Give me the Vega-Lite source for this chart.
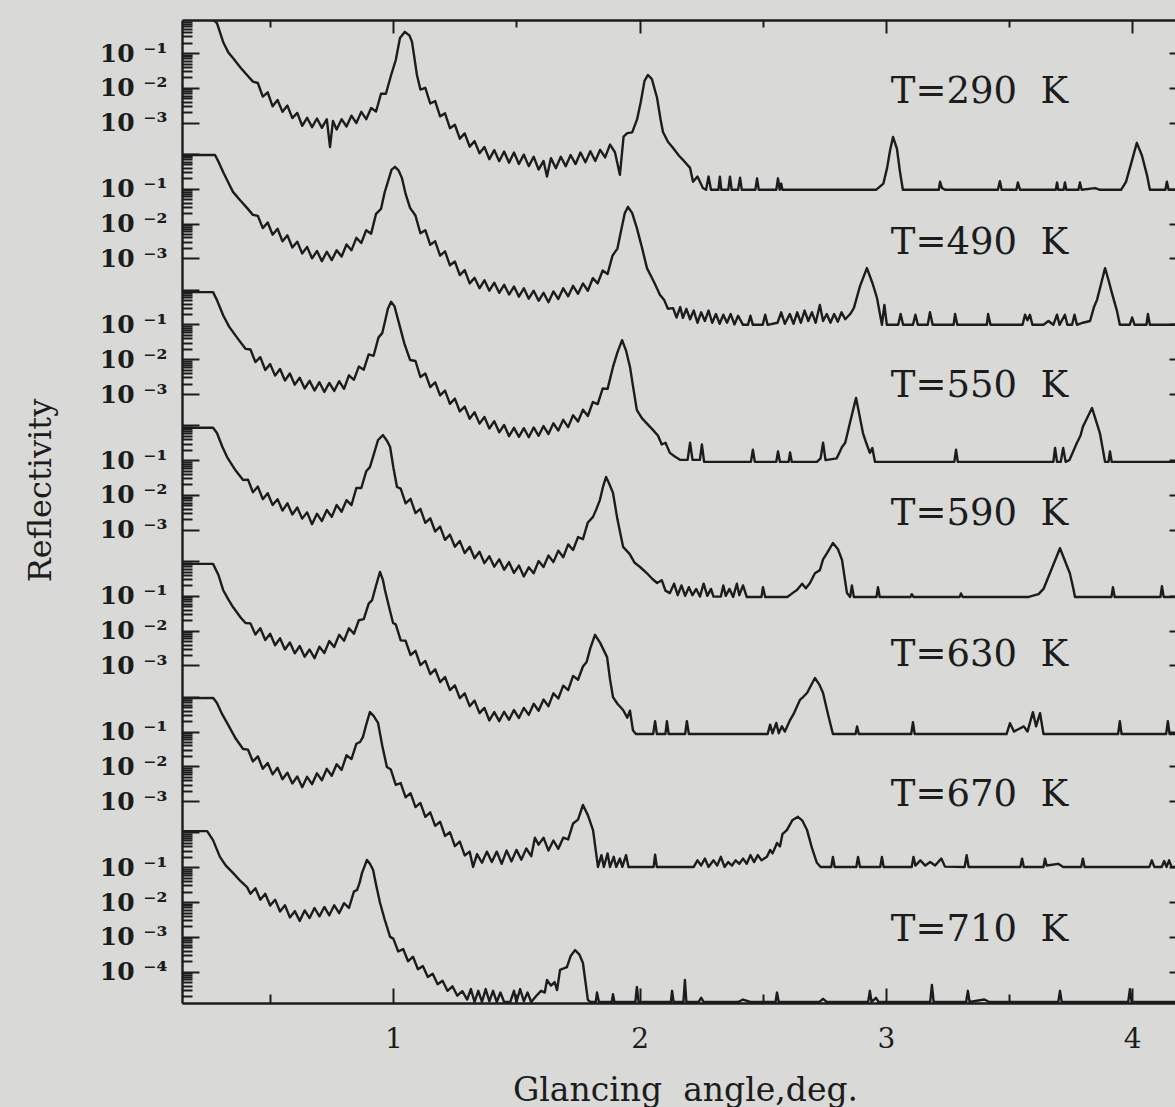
{
"$schema":"https://vega.github.io/schema/vega-lite/v6.json",
"width":993,"height":983,
"autosize":{"type":"none"},
"padding":{"left":182,"top":20,"right":0,"bottom":104},
"background":"#d9d9d7",
"config":{"view":{"stroke":null},"font":"DejaVu Serif"},
"datasets":{
"labels":[
{"T":290,"txt":"T=290\u00a0 K","a":3.02,"r":-2.13},
{"T":490,"txt":"T=490\u00a0 K","a":3.02,"r":-2.57},
{"T":550,"txt":"T=550\u00a0 K","a":3.02,"r":-2.78},
{"T":590,"txt":"T=590\u00a0 K","a":3.02,"r":-2.55},
{"T":630,"txt":"T=630\u00a0 K","a":3.02,"r":-2.71},
{"T":670,"txt":"T=670\u00a0 K","a":3.02,"r":-2.81},
{"T":710,"txt":"T=710\u00a0 K","a":3.02,"r":-2.8}
],
"curves":[
{"T":290,"a":0.142,"r":0},{"T":290,"a":0.26,"r":0},{"T":290,"a":0.284,"r":-0.14},{"T":290,"a":0.309,"r":-0.68},{"T":290,"a":0.33,"r":-0.98},{"T":290,"a":0.349,"r":-1.14},{"T":290,"a":0.38,"r":-1.42},{"T":290,"a":0.406,"r":-1.63},{"T":290,"a":0.43,"r":-1.82},
{"T":290,"a":0.45,"r":-1.86},{"T":290,"a":0.47,"r":-2.25},{"T":290,"a":0.49,"r":-2.13},{"T":290,"a":0.51,"r":-2.53},{"T":290,"a":0.53,"r":-2.35},{"T":290,"a":0.55,"r":-2.69},{"T":290,"a":0.57,"r":-2.51},{"T":290,"a":0.59,"r":-2.87},{"T":290,"a":0.61,"r":-2.72},{"T":290,"a":0.63,"r":-3.09},{"T":290,"a":0.65,"r":-2.86},{"T":290,"a":0.67,"r":-3.13},{"T":290,"a":0.69,"r":-2.88},{"T":290,"a":0.71,"r":-3.15},{"T":290,"a":0.73,"r":-2.9},{"T":290,"a":0.743,"r":-3.7},{"T":290,"a":0.755,"r":-2.95},{"T":290,"a":0.77,"r":-3.2},{"T":290,"a":0.79,"r":-2.9},{"T":290,"a":0.81,"r":-3.11},{"T":290,"a":0.83,"r":-2.8},{"T":290,"a":0.85,"r":-3.01},{"T":290,"a":0.87,"r":-2.69},{"T":290,"a":0.89,"r":-2.9},{"T":290,"a":0.91,"r":-2.58},{"T":290,"a":0.93,"r":-2.68},{"T":290,"a":0.95,"r":-2.17},{"T":290,"a":0.97,"r":-2.17},{"T":290,"a":0.99,"r":-1.66},
{"T":290,"a":1.01,"r":-1.2},{"T":290,"a":1.027,"r":-0.57},{"T":290,"a":1.047,"r":-0.39},{"T":290,"a":1.066,"r":-0.5},{"T":290,"a":1.076,"r":-0.68},{"T":290,"a":1.096,"r":-1.63},
{"T":290,"a":1.11,"r":-2.05},{"T":290,"a":1.13,"r":-2.0},{"T":290,"a":1.15,"r":-2.45},{"T":290,"a":1.17,"r":-2.38},{"T":290,"a":1.19,"r":-2.82},{"T":290,"a":1.21,"r":-2.73},{"T":290,"a":1.23,"r":-3.16},{"T":290,"a":1.25,"r":-3.06},{"T":290,"a":1.27,"r":-3.46},{"T":290,"a":1.29,"r":-3.31},{"T":290,"a":1.31,"r":-3.69},{"T":290,"a":1.33,"r":-3.53},{"T":290,"a":1.35,"r":-3.88},{"T":290,"a":1.37,"r":-3.7},{"T":290,"a":1.39,"r":-4.05},{"T":290,"a":1.41,"r":-3.79},{"T":290,"a":1.43,"r":-4.11},{"T":290,"a":1.45,"r":-3.83},{"T":290,"a":1.47,"r":-4.15},{"T":290,"a":1.49,"r":-3.86},{"T":290,"a":1.51,"r":-4.19},{"T":290,"a":1.53,"r":-3.92},{"T":290,"a":1.55,"r":-4.25},{"T":290,"a":1.57,"r":-3.98},{"T":290,"a":1.59,"r":-4.35},{"T":290,"a":1.61,"r":-4.1},{"T":290,"a":1.624,"r":-4.55},{"T":290,"a":1.64,"r":-4.02},{"T":290,"a":1.66,"r":-4.31},{"T":290,"a":1.68,"r":-3.98},{"T":290,"a":1.7,"r":-4.25},{"T":290,"a":1.72,"r":-3.93},{"T":290,"a":1.74,"r":-4.19},{"T":290,"a":1.76,"r":-3.86},{"T":290,"a":1.78,"r":-4.14},{"T":290,"a":1.8,"r":-3.82},{"T":290,"a":1.82,"r":-4.1},{"T":290,"a":1.84,"r":-3.78},{"T":290,"a":1.86,"r":-4.0},{"T":290,"a":1.88,"r":-3.63},{"T":290,"a":1.9,"r":-3.85},{"T":290,"a":1.92,"r":-4.5},{"T":290,"a":1.935,"r":-3.4},{"T":290,"a":1.95,"r":-3.3},{"T":290,"a":1.97,"r":-3.28},{"T":290,"a":1.99,"r":-2.9},{"T":290,"a":2.005,"r":-2.4},{"T":290,"a":2.02,"r":-1.8},{"T":290,"a":2.034,"r":-1.63},{"T":290,"a":2.05,"r":-1.75},{"T":290,"a":2.071,"r":-2.29},{"T":290,"a":2.085,"r":-2.9},{"T":290,"a":2.095,"r":-3.27},{"T":290,"a":2.115,"r":-3.55},{"T":290,"a":2.136,"r":-3.73},{"T":290,"a":2.16,"r":-3.95},{"T":290,"a":2.18,"r":-4.1},{"T":290,"a":2.205,"r":-4.3},{"T":290,"a":2.217,"r":-4.7},{"T":290,"a":2.235,"r":-4.55},{"T":290,"a":2.257,"r":-4.88},
{"T":290,"a":2.27,"r":-4.93},{"T":290,"a":2.28,"r":-4.55},{"T":290,"a":2.29,"r":-4.93},{"T":290,"a":2.32,"r":-4.93},{"T":290,"a":2.326,"r":-4.55},{"T":290,"a":2.332,"r":-4.93},{"T":290,"a":2.36,"r":-4.93},{"T":290,"a":2.367,"r":-4.55},{"T":290,"a":2.374,"r":-4.93},{"T":290,"a":2.4,"r":-4.93},{"T":290,"a":2.408,"r":-4.58},{"T":290,"a":2.415,"r":-4.93},{"T":290,"a":2.47,"r":-4.93},{"T":290,"a":2.477,"r":-4.6},{"T":290,"a":2.484,"r":-4.93},{"T":290,"a":2.555,"r":-4.93},{"T":290,"a":2.562,"r":-4.6},{"T":290,"a":2.569,"r":-4.93},{"T":290,"a":2.575,"r":-4.75},{"T":290,"a":2.58,"r":-4.93},
{"T":290,"a":2.96,"r":-4.93},{"T":290,"a":2.99,"r":-4.75},{"T":290,"a":3.005,"r":-4.3},{"T":290,"a":3.017,"r":-3.8},{"T":290,"a":3.029,"r":-3.41},{"T":290,"a":3.045,"r":-3.75},{"T":290,"a":3.057,"r":-4.4},{"T":290,"a":3.069,"r":-4.93},
{"T":290,"a":3.215,"r":-4.93},{"T":290,"a":3.22,"r":-4.7},{"T":290,"a":3.228,"r":-4.88},{"T":290,"a":3.24,"r":-4.93},{"T":290,"a":3.455,"r":-4.93},{"T":290,"a":3.463,"r":-4.68},{"T":290,"a":3.47,"r":-4.93},{"T":290,"a":3.53,"r":-4.93},{"T":290,"a":3.536,"r":-4.72},{"T":290,"a":3.545,"r":-4.93},{"T":290,"a":3.69,"r":-4.93},{"T":290,"a":3.695,"r":-4.72},{"T":290,"a":3.7,"r":-4.93},{"T":290,"a":3.722,"r":-4.93},{"T":290,"a":3.727,"r":-4.72},{"T":290,"a":3.733,"r":-4.93},{"T":290,"a":3.782,"r":-4.93},{"T":290,"a":3.788,"r":-4.72},{"T":290,"a":3.795,"r":-4.93},{"T":290,"a":3.85,"r":-4.88},{"T":290,"a":3.87,"r":-4.93},
{"T":290,"a":3.955,"r":-4.93},{"T":290,"a":3.975,"r":-4.7},{"T":290,"a":3.995,"r":-4.2},{"T":290,"a":4.019,"r":-3.58},{"T":290,"a":4.04,"r":-3.95},{"T":290,"a":4.06,"r":-4.5},{"T":290,"a":4.072,"r":-4.93},{"T":290,"a":4.135,"r":-4.93},{"T":290,"a":4.141,"r":-4.7},{"T":290,"a":4.148,"r":-4.93},{"T":290,"a":4.18,"r":-4.93},

{"T":490,"a":0.142,"r":-0.03},{"T":490,"a":0.276,"r":-0.03},{"T":490,"a":0.292,"r":-0.25},{"T":490,"a":0.309,"r":-0.52},{"T":490,"a":0.33,"r":-0.82},{"T":490,"a":0.349,"r":-1.09},{"T":490,"a":0.378,"r":-1.33},{"T":490,"a":0.406,"r":-1.55},{"T":490,"a":0.43,"r":-1.75},
{"T":490,"a":0.45,"r":-1.78},{"T":490,"a":0.47,"r":-2.13},{"T":490,"a":0.49,"r":-1.97},{"T":490,"a":0.51,"r":-2.32},{"T":490,"a":0.53,"r":-2.15},{"T":490,"a":0.55,"r":-2.51},{"T":490,"a":0.57,"r":-2.34},{"T":490,"a":0.59,"r":-2.69},{"T":490,"a":0.61,"r":-2.52},{"T":490,"a":0.63,"r":-2.86},{"T":490,"a":0.65,"r":-2.67},{"T":490,"a":0.67,"r":-3.0},{"T":490,"a":0.69,"r":-2.79},{"T":490,"a":0.71,"r":-3.08},{"T":490,"a":0.73,"r":-2.81},{"T":490,"a":0.75,"r":-3.05},{"T":490,"a":0.77,"r":-2.77},{"T":490,"a":0.79,"r":-2.95},{"T":490,"a":0.81,"r":-2.6},{"T":490,"a":0.83,"r":-2.77},{"T":490,"a":0.85,"r":-2.41},{"T":490,"a":0.87,"r":-2.56},{"T":490,"a":0.89,"r":-2.19},{"T":490,"a":0.91,"r":-2.29},{"T":490,"a":0.93,"r":-1.72},{"T":490,"a":0.95,"r":-1.58},{"T":490,"a":0.965,"r":-1.1},{"T":490,"a":0.978,"r":-0.8},{"T":490,"a":0.993,"r":-0.45},{"T":490,"a":1.007,"r":-0.37},{"T":490,"a":1.022,"r":-0.48},{"T":490,"a":1.035,"r":-0.69},{"T":490,"a":1.05,"r":-1.15},{"T":490,"a":1.068,"r":-1.55},
{"T":490,"a":1.09,"r":-1.77},{"T":490,"a":1.11,"r":-2.28},{"T":490,"a":1.13,"r":-2.19},{"T":490,"a":1.15,"r":-2.61},{"T":490,"a":1.17,"r":-2.51},{"T":490,"a":1.19,"r":-2.92},{"T":490,"a":1.21,"r":-2.8},{"T":490,"a":1.23,"r":-3.2},{"T":490,"a":1.25,"r":-3.09},{"T":490,"a":1.27,"r":-3.48},{"T":490,"a":1.29,"r":-3.34},{"T":490,"a":1.31,"r":-3.72},{"T":490,"a":1.33,"r":-3.56},{"T":490,"a":1.35,"r":-3.86},{"T":490,"a":1.37,"r":-3.63},{"T":490,"a":1.39,"r":-3.93},{"T":490,"a":1.41,"r":-3.7},{"T":490,"a":1.43,"r":-3.99},{"T":490,"a":1.45,"r":-3.76},{"T":490,"a":1.47,"r":-4.04},{"T":490,"a":1.49,"r":-3.81},{"T":490,"a":1.51,"r":-4.1},{"T":490,"a":1.53,"r":-3.86},{"T":490,"a":1.55,"r":-4.16},{"T":490,"a":1.57,"r":-3.93},{"T":490,"a":1.59,"r":-4.22},{"T":490,"a":1.61,"r":-3.99},{"T":490,"a":1.63,"r":-4.26},{"T":490,"a":1.65,"r":-3.95},{"T":490,"a":1.67,"r":-4.17},{"T":490,"a":1.69,"r":-3.86},{"T":490,"a":1.71,"r":-4.09},{"T":490,"a":1.73,"r":-3.79},{"T":490,"a":1.75,"r":-4.02},{"T":490,"a":1.77,"r":-3.72},{"T":490,"a":1.79,"r":-3.93},{"T":490,"a":1.81,"r":-3.57},{"T":490,"a":1.83,"r":-3.72},{"T":490,"a":1.85,"r":-3.35},{"T":490,"a":1.87,"r":-3.45},{"T":490,"a":1.89,"r":-2.92},{"T":490,"a":1.91,"r":-2.72},{"T":490,"a":1.925,"r":-2.2},{"T":490,"a":1.94,"r":-1.7},{"T":490,"a":1.953,"r":-1.52},{"T":490,"a":1.97,"r":-1.7},{"T":490,"a":1.989,"r":-2.13},{"T":490,"a":2.01,"r":-2.7},{"T":490,"a":2.03,"r":-3.28},{"T":490,"a":2.06,"r":-3.7},{"T":490,"a":2.083,"r":-4.05},
{"T":490,"a":2.1,"r":-4.2},{"T":490,"a":2.115,"r":-4.45},{"T":490,"a":2.136,"r":-4.43},{"T":490,"a":2.15,"r":-4.7},{"T":490,"a":2.165,"r":-4.4},{"T":490,"a":2.176,"r":-4.71},{"T":490,"a":2.19,"r":-4.45},{"T":490,"a":2.205,"r":-4.75},{"T":490,"a":2.22,"r":-4.5},{"T":490,"a":2.235,"r":-4.85},{"T":490,"a":2.25,"r":-4.55},{"T":490,"a":2.265,"r":-4.8},{"T":490,"a":2.28,"r":-4.5},{"T":490,"a":2.295,"r":-4.85},{"T":490,"a":2.31,"r":-4.6},{"T":490,"a":2.325,"r":-4.88},{"T":490,"a":2.34,"r":-4.62},{"T":490,"a":2.355,"r":-4.85},{"T":490,"a":2.37,"r":-4.6},{"T":490,"a":2.385,"r":-4.9},{"T":490,"a":2.4,"r":-4.65},{"T":490,"a":2.42,"r":-4.91},{"T":490,"a":2.44,"r":-4.91},{"T":490,"a":2.45,"r":-4.65},{"T":490,"a":2.46,"r":-4.91},{"T":490,"a":2.5,"r":-4.91},{"T":490,"a":2.51,"r":-4.62},{"T":490,"a":2.52,"r":-4.91},{"T":490,"a":2.56,"r":-4.85},{"T":490,"a":2.575,"r":-4.55},{"T":490,"a":2.59,"r":-4.88},{"T":490,"a":2.61,"r":-4.6},{"T":490,"a":2.625,"r":-4.88},{"T":490,"a":2.64,"r":-4.55},{"T":490,"a":2.655,"r":-4.85},{"T":490,"a":2.67,"r":-4.5},{"T":490,"a":2.685,"r":-4.8},{"T":490,"a":2.7,"r":-4.55},{"T":490,"a":2.715,"r":-4.85},{"T":490,"a":2.732,"r":-4.34},{"T":490,"a":2.745,"r":-4.8},{"T":490,"a":2.76,"r":-4.6},{"T":490,"a":2.775,"r":-4.85},{"T":490,"a":2.79,"r":-4.6},{"T":490,"a":2.805,"r":-4.82},{"T":490,"a":2.82,"r":-4.55},{"T":490,"a":2.835,"r":-4.75},{"T":490,"a":2.855,"r":-4.6},{"T":490,"a":2.87,"r":-4.43},{"T":490,"a":2.895,"r":-3.8},{"T":490,"a":2.923,"r":-3.28},{"T":490,"a":2.945,"r":-3.7},{"T":490,"a":2.964,"r":-4.14},{"T":490,"a":2.984,"r":-4.91},{"T":490,"a":2.994,"r":-4.34},{"T":490,"a":3.004,"r":-4.91},
{"T":490,"a":3.05,"r":-4.91},{"T":490,"a":3.06,"r":-4.6},{"T":490,"a":3.07,"r":-4.91},{"T":490,"a":3.11,"r":-4.91},{"T":490,"a":3.12,"r":-4.62},{"T":490,"a":3.13,"r":-4.91},{"T":490,"a":3.17,"r":-4.91},{"T":490,"a":3.179,"r":-4.55},{"T":490,"a":3.19,"r":-4.91},{"T":490,"a":3.275,"r":-4.91},{"T":490,"a":3.281,"r":-4.6},{"T":490,"a":3.29,"r":-4.91},{"T":490,"a":3.41,"r":-4.91},{"T":490,"a":3.415,"r":-4.6},{"T":490,"a":3.425,"r":-4.91},{"T":490,"a":3.555,"r":-4.91},{"T":490,"a":3.565,"r":-4.62},{"T":490,"a":3.575,"r":-4.78},{"T":490,"a":3.585,"r":-4.62},{"T":490,"a":3.595,"r":-4.91},{"T":490,"a":3.64,"r":-4.91},{"T":490,"a":3.66,"r":-4.8},{"T":490,"a":3.68,"r":-4.91},{"T":490,"a":3.695,"r":-4.62},{"T":490,"a":3.705,"r":-4.91},{"T":490,"a":3.727,"r":-4.62},{"T":490,"a":3.737,"r":-4.91},{"T":490,"a":3.756,"r":-4.91},{"T":490,"a":3.766,"r":-4.62},{"T":490,"a":3.776,"r":-4.91},{"T":490,"a":3.8,"r":-4.85},{"T":490,"a":3.829,"r":-4.8},{"T":490,"a":3.845,"r":-4.4},{"T":490,"a":3.857,"r":-4.2},{"T":490,"a":3.875,"r":-3.7},{"T":490,"a":3.89,"r":-3.28},{"T":490,"a":3.905,"r":-3.65},{"T":490,"a":3.918,"r":-4.0},{"T":490,"a":3.938,"r":-4.5},{"T":490,"a":3.95,"r":-4.91},{"T":490,"a":3.99,"r":-4.91},{"T":490,"a":4.0,"r":-4.7},{"T":490,"a":4.01,"r":-4.91},{"T":490,"a":4.058,"r":-4.91},{"T":490,"a":4.064,"r":-4.6},{"T":490,"a":4.072,"r":-4.91},{"T":490,"a":4.18,"r":-4.91},

{"T":550,"a":0.142,"r":-0.07},{"T":550,"a":0.268,"r":-0.07},{"T":550,"a":0.284,"r":-0.3},{"T":550,"a":0.31,"r":-0.75},{"T":550,"a":0.334,"r":-1.07},{"T":550,"a":0.37,"r":-1.42},{"T":550,"a":0.4,"r":-1.7},
{"T":550,"a":0.42,"r":-1.72},{"T":550,"a":0.44,"r":-2.08},{"T":550,"a":0.46,"r":-1.94},{"T":550,"a":0.48,"r":-2.31},{"T":550,"a":0.5,"r":-2.14},{"T":550,"a":0.52,"r":-2.47},{"T":550,"a":0.54,"r":-2.28},{"T":550,"a":0.56,"r":-2.61},{"T":550,"a":0.58,"r":-2.41},{"T":550,"a":0.6,"r":-2.73},{"T":550,"a":0.62,"r":-2.53},{"T":550,"a":0.64,"r":-2.84},{"T":550,"a":0.66,"r":-2.62},{"T":550,"a":0.68,"r":-2.9},{"T":550,"a":0.7,"r":-2.66},{"T":550,"a":0.72,"r":-2.94},{"T":550,"a":0.74,"r":-2.68},{"T":550,"a":0.76,"r":-2.91},{"T":550,"a":0.78,"r":-2.63},{"T":550,"a":0.8,"r":-2.85},{"T":550,"a":0.82,"r":-2.46},{"T":550,"a":0.84,"r":-2.59},{"T":550,"a":0.86,"r":-2.21},{"T":550,"a":0.88,"r":-2.3},{"T":550,"a":0.9,"r":-1.86},{"T":550,"a":0.92,"r":-1.9},{"T":550,"a":0.94,"r":-1.37},{"T":550,"a":0.955,"r":-1.25},{"T":550,"a":0.965,"r":-0.95},{"T":550,"a":0.978,"r":-0.55},{"T":550,"a":0.991,"r":-0.35},{"T":550,"a":1.005,"r":-0.48},{"T":550,"a":1.015,"r":-0.75},{"T":550,"a":1.027,"r":-1.07},{"T":550,"a":1.045,"r":-1.55},{"T":550,"a":1.068,"r":-2.02},
{"T":550,"a":1.09,"r":-2.05},{"T":550,"a":1.11,"r":-2.51},{"T":550,"a":1.13,"r":-2.41},{"T":550,"a":1.15,"r":-2.8},{"T":550,"a":1.17,"r":-2.66},{"T":550,"a":1.19,"r":-3.04},{"T":550,"a":1.21,"r":-2.9},{"T":550,"a":1.23,"r":-3.28},{"T":550,"a":1.25,"r":-3.13},{"T":550,"a":1.27,"r":-3.5},{"T":550,"a":1.29,"r":-3.36},{"T":550,"a":1.31,"r":-3.71},{"T":550,"a":1.33,"r":-3.52},{"T":550,"a":1.35,"r":-3.85},{"T":550,"a":1.37,"r":-3.66},{"T":550,"a":1.39,"r":-3.99},{"T":550,"a":1.41,"r":-3.78},{"T":550,"a":1.43,"r":-4.1},{"T":550,"a":1.45,"r":-3.89},{"T":550,"a":1.47,"r":-4.21},{"T":550,"a":1.49,"r":-3.97},{"T":550,"a":1.51,"r":-4.23},{"T":550,"a":1.53,"r":-3.98},{"T":550,"a":1.55,"r":-4.24},{"T":550,"a":1.57,"r":-3.96},{"T":550,"a":1.59,"r":-4.2},{"T":550,"a":1.61,"r":-3.92},{"T":550,"a":1.63,"r":-4.15},{"T":550,"a":1.65,"r":-3.84},{"T":550,"a":1.67,"r":-4.05},{"T":550,"a":1.69,"r":-3.74},{"T":550,"a":1.71,"r":-3.95},{"T":550,"a":1.73,"r":-3.61},{"T":550,"a":1.75,"r":-3.79},{"T":550,"a":1.77,"r":-3.45},{"T":550,"a":1.79,"r":-3.63},{"T":550,"a":1.81,"r":-3.23},{"T":550,"a":1.83,"r":-3.29},{"T":550,"a":1.85,"r":-2.84},{"T":550,"a":1.87,"r":-2.85},{"T":550,"a":1.892,"r":-2.22},{"T":550,"a":1.91,"r":-1.8},{"T":550,"a":1.929,"r":-1.45},{"T":550,"a":1.945,"r":-1.75},{"T":550,"a":1.961,"r":-2.22},{"T":550,"a":1.975,"r":-2.85},{"T":550,"a":1.989,"r":-3.46},{"T":550,"a":2.01,"r":-3.7},{"T":550,"a":2.03,"r":-3.85},{"T":550,"a":2.054,"r":-4.03},{"T":550,"a":2.075,"r":-4.2},{"T":550,"a":2.09,"r":-4.45},{"T":550,"a":2.105,"r":-4.4},{"T":550,"a":2.123,"r":-4.69},{"T":550,"a":2.14,"r":-4.78},{"T":550,"a":2.164,"r":-4.89},
{"T":550,"a":2.195,"r":-4.89},{"T":550,"a":2.205,"r":-4.4},{"T":550,"a":2.215,"r":-4.89},{"T":550,"a":2.245,"r":-4.89},{"T":550,"a":2.253,"r":-4.45},{"T":550,"a":2.262,"r":-4.95},{"T":550,"a":2.452,"r":-4.95},{"T":550,"a":2.46,"r":-4.6},{"T":550,"a":2.468,"r":-4.95},{"T":550,"a":2.555,"r":-4.95},{"T":550,"a":2.562,"r":-4.65},{"T":550,"a":2.57,"r":-4.95},{"T":550,"a":2.605,"r":-4.95},{"T":550,"a":2.611,"r":-4.68},{"T":550,"a":2.618,"r":-4.95},{"T":550,"a":2.72,"r":-4.95},{"T":550,"a":2.735,"r":-4.85},{"T":550,"a":2.745,"r":-4.4},{"T":550,"a":2.755,"r":-4.9},{"T":550,"a":2.8,"r":-4.85},{"T":550,"a":2.822,"r":-4.52},{"T":550,"a":2.835,"r":-4.4},{"T":550,"a":2.854,"r":-3.83},{"T":550,"a":2.879,"r":-3.11},{"T":550,"a":2.907,"r":-4.12},{"T":550,"a":2.92,"r":-4.4},{"T":550,"a":2.935,"r":-4.69},{"T":550,"a":2.945,"r":-4.55},{"T":550,"a":2.956,"r":-4.95},
{"T":550,"a":3.278,"r":-4.95},{"T":550,"a":3.285,"r":-4.6},{"T":550,"a":3.292,"r":-4.95},{"T":550,"a":3.68,"r":-4.95},{"T":550,"a":3.687,"r":-4.55},{"T":550,"a":3.695,"r":-4.95},{"T":550,"a":3.71,"r":-4.95},{"T":550,"a":3.72,"r":-4.55},{"T":550,"a":3.73,"r":-4.95},{"T":550,"a":3.745,"r":-4.9},{"T":550,"a":3.776,"r":-4.4},{"T":550,"a":3.79,"r":-4.2},{"T":550,"a":3.8,"r":-3.94},{"T":550,"a":3.837,"r":-3.4},{"T":550,"a":3.869,"r":-4.12},{"T":550,"a":3.88,"r":-4.55},{"T":550,"a":3.89,"r":-4.95},{"T":550,"a":3.904,"r":-4.95},{"T":550,"a":3.91,"r":-4.65},{"T":550,"a":3.917,"r":-4.95},{"T":550,"a":4.18,"r":-4.95},

{"T":590,"a":0.142,"r":-0.07},{"T":590,"a":0.268,"r":-0.07},{"T":590,"a":0.284,"r":-0.22},{"T":590,"a":0.305,"r":-0.6},{"T":590,"a":0.325,"r":-0.91},{"T":590,"a":0.36,"r":-1.3},{"T":590,"a":0.39,"r":-1.57},
{"T":590,"a":0.41,"r":-1.56},{"T":590,"a":0.43,"r":-1.92},{"T":590,"a":0.45,"r":-1.76},{"T":590,"a":0.47,"r":-2.12},{"T":590,"a":0.49,"r":-1.95},{"T":590,"a":0.51,"r":-2.29},{"T":590,"a":0.53,"r":-2.12},{"T":590,"a":0.55,"r":-2.45},{"T":590,"a":0.57,"r":-2.24},{"T":590,"a":0.59,"r":-2.56},{"T":590,"a":0.61,"r":-2.36},{"T":590,"a":0.63,"r":-2.68},{"T":590,"a":0.65,"r":-2.5},{"T":590,"a":0.67,"r":-2.84},{"T":590,"a":0.69,"r":-2.54},{"T":590,"a":0.71,"r":-2.75},{"T":590,"a":0.73,"r":-2.43},{"T":590,"a":0.75,"r":-2.63},{"T":590,"a":0.77,"r":-2.29},{"T":590,"a":0.79,"r":-2.48},{"T":590,"a":0.81,"r":-2.15},{"T":590,"a":0.83,"r":-2.29},{"T":590,"a":0.85,"r":-1.8},{"T":590,"a":0.87,"r":-1.8},{"T":590,"a":0.89,"r":-1.32},{"T":590,"a":0.905,"r":-1.2},{"T":590,"a":0.92,"r":-0.85},{"T":590,"a":0.938,"r":-0.42},{"T":590,"a":0.958,"r":-0.28},{"T":590,"a":0.975,"r":-0.45},{"T":590,"a":0.987,"r":-0.62},{"T":590,"a":1.0,"r":-1.2},{"T":590,"a":1.015,"r":-1.77},
{"T":590,"a":1.03,"r":-1.82},{"T":590,"a":1.05,"r":-2.24},{"T":590,"a":1.07,"r":-2.11},{"T":590,"a":1.09,"r":-2.52},{"T":590,"a":1.11,"r":-2.4},{"T":590,"a":1.13,"r":-2.8},{"T":590,"a":1.15,"r":-2.67},{"T":590,"a":1.17,"r":-3.05},{"T":590,"a":1.19,"r":-2.91},{"T":590,"a":1.21,"r":-3.29},{"T":590,"a":1.23,"r":-3.14},{"T":590,"a":1.25,"r":-3.49},{"T":590,"a":1.27,"r":-3.32},{"T":590,"a":1.29,"r":-3.67},{"T":590,"a":1.31,"r":-3.49},{"T":590,"a":1.33,"r":-3.82},{"T":590,"a":1.35,"r":-3.63},{"T":590,"a":1.37,"r":-3.96},{"T":590,"a":1.39,"r":-3.76},{"T":590,"a":1.41,"r":-4.06},{"T":590,"a":1.43,"r":-3.85},{"T":590,"a":1.45,"r":-4.15},{"T":590,"a":1.47,"r":-3.93},{"T":590,"a":1.49,"r":-4.24},{"T":590,"a":1.51,"r":-4.03},{"T":590,"a":1.53,"r":-4.34},{"T":590,"a":1.55,"r":-4.08},{"T":590,"a":1.57,"r":-4.25},{"T":590,"a":1.59,"r":-3.9},{"T":590,"a":1.61,"r":-4.07},{"T":590,"a":1.63,"r":-3.74},{"T":590,"a":1.65,"r":-3.93},{"T":590,"a":1.67,"r":-3.6},{"T":590,"a":1.69,"r":-3.79},{"T":590,"a":1.71,"r":-3.42},{"T":590,"a":1.73,"r":-3.58},{"T":590,"a":1.75,"r":-3.21},{"T":590,"a":1.77,"r":-3.27},{"T":590,"a":1.79,"r":-2.79},{"T":590,"a":1.811,"r":-2.63},{"T":590,"a":1.825,"r":-2.4},{"T":590,"a":1.839,"r":-2.14},{"T":590,"a":1.852,"r":-1.75},{"T":590,"a":1.864,"r":-1.48},{"T":590,"a":1.878,"r":-1.7},{"T":590,"a":1.892,"r":-1.94},{"T":590,"a":1.91,"r":-2.7},{"T":590,"a":1.933,"r":-3.49},{"T":590,"a":1.96,"r":-3.7},{"T":590,"a":1.98,"r":-3.95},{"T":590,"a":2.002,"r":-4.07},{"T":590,"a":2.03,"r":-4.25},{"T":590,"a":2.05,"r":-4.4},{"T":590,"a":2.071,"r":-4.53},{"T":590,"a":2.09,"r":-4.45},{"T":590,"a":2.105,"r":-4.75},{"T":590,"a":2.123,"r":-4.82},
{"T":590,"a":2.14,"r":-4.55},{"T":590,"a":2.155,"r":-4.88},{"T":590,"a":2.17,"r":-4.6},{"T":590,"a":2.185,"r":-4.9},{"T":590,"a":2.2,"r":-4.65},{"T":590,"a":2.215,"r":-4.88},{"T":590,"a":2.23,"r":-4.7},{"T":590,"a":2.245,"r":-4.92},{"T":590,"a":2.26,"r":-4.55},{"T":590,"a":2.275,"r":-4.9},{"T":590,"a":2.29,"r":-4.7},{"T":590,"a":2.3,"r":-4.92},{"T":590,"a":2.33,"r":-4.92},{"T":590,"a":2.34,"r":-4.6},{"T":590,"a":2.35,"r":-4.9},{"T":590,"a":2.365,"r":-4.7},{"T":590,"a":2.38,"r":-4.93},{"T":590,"a":2.395,"r":-4.55},{"T":590,"a":2.405,"r":-4.88},{"T":590,"a":2.42,"r":-4.6},{"T":590,"a":2.435,"r":-4.93},{"T":590,"a":2.495,"r":-4.93},{"T":590,"a":2.501,"r":-4.65},{"T":590,"a":2.51,"r":-4.93},{"T":590,"a":2.6,"r":-4.93},{"T":590,"a":2.625,"r":-4.8},{"T":590,"a":2.639,"r":-4.73},{"T":590,"a":2.66,"r":-4.55},{"T":590,"a":2.675,"r":-4.68},{"T":590,"a":2.692,"r":-4.53},{"T":590,"a":2.712,"r":-4.25},{"T":590,"a":2.732,"r":-4.16},{"T":590,"a":2.745,"r":-3.85},{"T":590,"a":2.761,"r":-3.67},{"T":590,"a":2.785,"r":-3.38},{"T":590,"a":2.805,"r":-3.55},{"T":590,"a":2.822,"r":-3.87},{"T":590,"a":2.842,"r":-4.82},{"T":590,"a":2.855,"r":-4.93},{"T":590,"a":2.862,"r":-4.6},{"T":590,"a":2.87,"r":-4.93},
{"T":590,"a":2.962,"r":-4.93},{"T":590,"a":2.968,"r":-4.65},{"T":590,"a":2.975,"r":-4.93},{"T":590,"a":3.1,"r":-4.93},{"T":590,"a":3.105,"r":-4.85},{"T":590,"a":3.112,"r":-4.93},{"T":590,"a":3.3,"r":-4.93},{"T":590,"a":3.305,"r":-4.83},{"T":590,"a":3.312,"r":-4.93},{"T":590,"a":3.58,"r":-4.93},{"T":590,"a":3.62,"r":-4.85},{"T":590,"a":3.64,"r":-4.7},{"T":590,"a":3.666,"r":-4.25},{"T":590,"a":3.707,"r":-3.53},{"T":590,"a":3.747,"r":-4.25},{"T":590,"a":3.76,"r":-4.65},{"T":590,"a":3.768,"r":-4.93},{"T":590,"a":3.916,"r":-4.93},{"T":590,"a":3.922,"r":-4.65},{"T":590,"a":3.929,"r":-4.93},{"T":590,"a":4.115,"r":-4.93},{"T":590,"a":4.121,"r":-4.62},{"T":590,"a":4.128,"r":-4.93},{"T":590,"a":4.18,"r":-4.93},

{"T":630,"a":0.142,"r":-0.08},{"T":630,"a":0.268,"r":-0.08},{"T":630,"a":0.29,"r":-0.4},{"T":630,"a":0.309,"r":-0.83},{"T":630,"a":0.33,"r":-1.1},{"T":630,"a":0.349,"r":-1.32},{"T":630,"a":0.38,"r":-1.62},{"T":630,"a":0.4,"r":-1.78},
{"T":630,"a":0.42,"r":-1.79},{"T":630,"a":0.44,"r":-2.11},{"T":630,"a":0.46,"r":-1.93},{"T":630,"a":0.48,"r":-2.27},{"T":630,"a":0.5,"r":-2.09},{"T":630,"a":0.52,"r":-2.42},{"T":630,"a":0.54,"r":-2.22},{"T":630,"a":0.56,"r":-2.54},{"T":630,"a":0.58,"r":-2.34},{"T":630,"a":0.6,"r":-2.65},{"T":630,"a":0.62,"r":-2.44},{"T":630,"a":0.64,"r":-2.75},{"T":630,"a":0.66,"r":-2.54},{"T":630,"a":0.68,"r":-2.79},{"T":630,"a":0.7,"r":-2.46},{"T":630,"a":0.72,"r":-2.64},{"T":630,"a":0.74,"r":-2.3},{"T":630,"a":0.76,"r":-2.47},{"T":630,"a":0.78,"r":-2.12},{"T":630,"a":0.8,"r":-2.29},{"T":630,"a":0.82,"r":-1.93},{"T":630,"a":0.84,"r":-2.09},{"T":630,"a":0.86,"r":-1.7},{"T":630,"a":0.88,"r":-1.67},{"T":630,"a":0.9,"r":-1.22},{"T":630,"a":0.914,"r":-1.12},{"T":630,"a":0.93,"r":-0.7},{"T":630,"a":0.946,"r":-0.31},{"T":630,"a":0.958,"r":-0.55},{"T":630,"a":0.966,"r":-0.83},{"T":630,"a":0.982,"r":-1.3},{"T":630,"a":0.999,"r":-1.78},
{"T":630,"a":1.01,"r":-1.82},{"T":630,"a":1.03,"r":-2.28},{"T":630,"a":1.05,"r":-2.29},{"T":630,"a":1.07,"r":-2.7},{"T":630,"a":1.09,"r":-2.58},{"T":630,"a":1.11,"r":-2.99},{"T":630,"a":1.13,"r":-2.87},{"T":630,"a":1.15,"r":-3.25},{"T":630,"a":1.17,"r":-3.11},{"T":630,"a":1.19,"r":-3.48},{"T":630,"a":1.21,"r":-3.33},{"T":630,"a":1.23,"r":-3.71},{"T":630,"a":1.25,"r":-3.57},{"T":630,"a":1.27,"r":-3.94},{"T":630,"a":1.29,"r":-3.8},{"T":630,"a":1.31,"r":-4.17},{"T":630,"a":1.33,"r":-4.01},{"T":630,"a":1.35,"r":-4.37},{"T":630,"a":1.37,"r":-4.22},{"T":630,"a":1.39,"r":-4.58},{"T":630,"a":1.41,"r":-4.34},{"T":630,"a":1.43,"r":-4.6},{"T":630,"a":1.45,"r":-4.33},{"T":630,"a":1.47,"r":-4.56},{"T":630,"a":1.49,"r":-4.28},{"T":630,"a":1.51,"r":-4.51},{"T":630,"a":1.53,"r":-4.22},{"T":630,"a":1.55,"r":-4.42},{"T":630,"a":1.57,"r":-4.1},{"T":630,"a":1.59,"r":-4.3},{"T":630,"a":1.61,"r":-3.98},{"T":630,"a":1.63,"r":-4.17},{"T":630,"a":1.65,"r":-3.8},{"T":630,"a":1.67,"r":-3.95},{"T":630,"a":1.69,"r":-3.58},{"T":630,"a":1.71,"r":-3.71},{"T":630,"a":1.73,"r":-3.3},{"T":630,"a":1.75,"r":-3.41},{"T":630,"a":1.77,"r":-3.03},{"T":630,"a":1.785,"r":-2.9},{"T":630,"a":1.8,"r":-2.5},{"T":630,"a":1.819,"r":-2.12},{"T":630,"a":1.84,"r":-2.35},{"T":630,"a":1.868,"r":-2.76},{"T":630,"a":1.88,"r":-3.4},{"T":630,"a":1.892,"r":-3.91},{"T":630,"a":1.91,"r":-4.1},{"T":630,"a":1.933,"r":-4.28},{"T":630,"a":1.95,"r":-4.5},{"T":630,"a":1.961,"r":-4.3},{"T":630,"a":1.973,"r":-4.86},{"T":630,"a":1.985,"r":-4.97},
{"T":630,"a":2.055,"r":-4.97},{"T":630,"a":2.063,"r":-4.6},{"T":630,"a":2.07,"r":-4.97},{"T":630,"a":2.105,"r":-4.97},{"T":630,"a":2.111,"r":-4.6},{"T":630,"a":2.118,"r":-4.97},{"T":630,"a":2.185,"r":-4.97},{"T":630,"a":2.192,"r":-4.6},{"T":630,"a":2.2,"r":-4.97},{"T":630,"a":2.52,"r":-4.97},{"T":630,"a":2.53,"r":-4.7},{"T":630,"a":2.54,"r":-4.95},{"T":630,"a":2.555,"r":-4.65},{"T":630,"a":2.565,"r":-4.95},{"T":630,"a":2.578,"r":-4.75},{"T":630,"a":2.59,"r":-4.9},{"T":630,"a":2.611,"r":-4.57},{"T":630,"a":2.625,"r":-4.4},{"T":630,"a":2.651,"r":-3.99},{"T":630,"a":2.665,"r":-3.9},{"T":630,"a":2.68,"r":-3.79},{"T":630,"a":2.712,"r":-3.36},{"T":630,"a":2.73,"r":-3.55},{"T":630,"a":2.745,"r":-3.79},{"T":630,"a":2.765,"r":-4.4},{"T":630,"a":2.785,"r":-4.97},
{"T":630,"a":2.877,"r":-4.97},{"T":630,"a":2.883,"r":-4.75},{"T":630,"a":2.89,"r":-4.97},{"T":630,"a":3.103,"r":-4.97},{"T":630,"a":3.11,"r":-4.63},{"T":630,"a":3.117,"r":-4.97},{"T":630,"a":3.49,"r":-4.97},{"T":630,"a":3.504,"r":-4.66},{"T":630,"a":3.52,"r":-4.9},{"T":630,"a":3.56,"r":-4.75},{"T":630,"a":3.575,"r":-4.9},{"T":630,"a":3.597,"r":-4.34},{"T":630,"a":3.61,"r":-4.75},{"T":630,"a":3.626,"r":-4.37},{"T":630,"a":3.64,"r":-4.97},{"T":630,"a":3.943,"r":-4.97},{"T":630,"a":3.95,"r":-4.6},{"T":630,"a":3.957,"r":-4.97},{"T":630,"a":4.138,"r":-4.97},{"T":630,"a":4.145,"r":-4.6},{"T":630,"a":4.152,"r":-4.97},{"T":630,"a":4.18,"r":-4.97},

{"T":670,"a":0.142,"r":-0.04},{"T":670,"a":0.268,"r":-0.03},{"T":670,"a":0.284,"r":-0.18},{"T":670,"a":0.305,"r":-0.5},{"T":670,"a":0.325,"r":-0.75},{"T":670,"a":0.36,"r":-1.2},{"T":670,"a":0.39,"r":-1.5},
{"T":670,"a":0.41,"r":-1.52},{"T":670,"a":0.43,"r":-1.86},{"T":670,"a":0.45,"r":-1.71},{"T":670,"a":0.47,"r":-2.07},{"T":670,"a":0.49,"r":-1.9},{"T":670,"a":0.51,"r":-2.23},{"T":670,"a":0.53,"r":-2.04},{"T":670,"a":0.55,"r":-2.37},{"T":670,"a":0.57,"r":-2.18},{"T":670,"a":0.59,"r":-2.49},{"T":670,"a":0.61,"r":-2.29},{"T":670,"a":0.63,"r":-2.6},{"T":670,"a":0.65,"r":-2.3},{"T":670,"a":0.67,"r":-2.51},{"T":670,"a":0.69,"r":-2.2},{"T":670,"a":0.71,"r":-2.4},{"T":670,"a":0.73,"r":-2.07},{"T":670,"a":0.75,"r":-2.27},{"T":670,"a":0.77,"r":-1.94},{"T":670,"a":0.79,"r":-2.1},{"T":670,"a":0.81,"r":-1.68},{"T":670,"a":0.83,"r":-1.79},{"T":670,"a":0.85,"r":-1.35},{"T":670,"a":0.865,"r":-1.3},{"T":670,"a":0.877,"r":-1.15},{"T":670,"a":0.89,"r":-0.8},{"T":670,"a":0.905,"r":-0.44},{"T":670,"a":0.92,"r":-0.55},{"T":670,"a":0.938,"r":-0.75},{"T":670,"a":0.955,"r":-1.4},{"T":670,"a":0.974,"r":-2.02},
{"T":670,"a":0.99,"r":-2.09},{"T":670,"a":1.01,"r":-2.53},{"T":670,"a":1.03,"r":-2.48},{"T":670,"a":1.05,"r":-2.89},{"T":670,"a":1.07,"r":-2.77},{"T":670,"a":1.09,"r":-3.17},{"T":670,"a":1.11,"r":-3.05},{"T":670,"a":1.13,"r":-3.45},{"T":670,"a":1.15,"r":-3.32},{"T":670,"a":1.17,"r":-3.71},{"T":670,"a":1.19,"r":-3.59},{"T":670,"a":1.21,"r":-4.0},{"T":670,"a":1.23,"r":-3.89},{"T":670,"a":1.25,"r":-4.29},{"T":670,"a":1.27,"r":-4.16},{"T":670,"a":1.29,"r":-4.56},{"T":670,"a":1.31,"r":-4.45},{"T":670,"a":1.324,"r":-4.89},{"T":670,"a":1.34,"r":-4.52},{"T":670,"a":1.36,"r":-4.77},{"T":670,"a":1.38,"r":-4.45},{"T":670,"a":1.4,"r":-4.75},{"T":670,"a":1.42,"r":-4.45},{"T":670,"a":1.44,"r":-4.8},{"T":670,"a":1.46,"r":-4.42},{"T":670,"a":1.48,"r":-4.73},{"T":670,"a":1.5,"r":-4.4},{"T":670,"a":1.52,"r":-4.68},{"T":670,"a":1.54,"r":-4.36},{"T":670,"a":1.56,"r":-4.58},{"T":670,"a":1.575,"r":-4.05},{"T":670,"a":1.59,"r":-4.25},{"T":670,"a":1.61,"r":-4.05},{"T":670,"a":1.63,"r":-4.42},{"T":670,"a":1.65,"r":-4.13},{"T":670,"a":1.67,"r":-4.37},{"T":670,"a":1.69,"r":-4.05},{"T":670,"a":1.71,"r":-4.1},{"T":670,"a":1.73,"r":-3.64},{"T":670,"a":1.75,"r":-3.53},{"T":670,"a":1.77,"r":-3.11},{"T":670,"a":1.79,"r":-3.4},{"T":670,"a":1.811,"r":-3.83},{"T":670,"a":1.831,"r":-4.89},
{"T":670,"a":1.845,"r":-4.55},{"T":670,"a":1.855,"r":-4.89},{"T":670,"a":1.87,"r":-4.5},{"T":670,"a":1.88,"r":-4.89},{"T":670,"a":1.895,"r":-4.6},{"T":670,"a":1.905,"r":-4.89},{"T":670,"a":1.92,"r":-4.65},{"T":670,"a":1.93,"r":-4.89},{"T":670,"a":1.945,"r":-4.55},{"T":670,"a":1.955,"r":-4.89},{"T":670,"a":2.057,"r":-4.89},{"T":670,"a":2.063,"r":-4.54},{"T":670,"a":2.07,"r":-4.89},{"T":670,"a":2.22,"r":-4.89},{"T":670,"a":2.235,"r":-4.7},{"T":670,"a":2.25,"r":-4.85},{"T":670,"a":2.265,"r":-4.65},{"T":670,"a":2.28,"r":-4.89},{"T":670,"a":2.3,"r":-4.7},{"T":670,"a":2.315,"r":-4.85},{"T":670,"a":2.33,"r":-4.6},{"T":670,"a":2.345,"r":-4.89},{"T":670,"a":2.36,"r":-4.75},{"T":670,"a":2.375,"r":-4.85},{"T":670,"a":2.39,"r":-4.7},{"T":670,"a":2.405,"r":-4.8},{"T":670,"a":2.42,"r":-4.65},{"T":670,"a":2.435,"r":-4.8},{"T":670,"a":2.45,"r":-4.55},{"T":670,"a":2.465,"r":-4.75},{"T":670,"a":2.48,"r":-4.55},{"T":670,"a":2.495,"r":-4.7},{"T":670,"a":2.517,"r":-4.6},{"T":670,"a":2.53,"r":-4.4},{"T":670,"a":2.54,"r":-4.5},{"T":670,"a":2.558,"r":-4.2},{"T":670,"a":2.57,"r":-4.3},{"T":670,"a":2.58,"r":-3.95},{"T":670,"a":2.598,"r":-3.83},{"T":670,"a":2.62,"r":-3.55},{"T":670,"a":2.643,"r":-3.45},{"T":670,"a":2.66,"r":-3.55},{"T":670,"a":2.68,"r":-3.83},{"T":670,"a":2.7,"r":-4.35},{"T":670,"a":2.72,"r":-4.77},{"T":670,"a":2.735,"r":-4.89},
{"T":670,"a":2.778,"r":-4.89},{"T":670,"a":2.785,"r":-4.6},{"T":670,"a":2.792,"r":-4.89},{"T":670,"a":2.88,"r":-4.89},{"T":670,"a":2.887,"r":-4.6},{"T":670,"a":2.895,"r":-4.89},{"T":670,"a":2.977,"r":-4.89},{"T":670,"a":2.984,"r":-4.6},{"T":670,"a":2.991,"r":-4.89},{"T":670,"a":3.105,"r":-4.89},{"T":670,"a":3.112,"r":-4.6},{"T":670,"a":3.12,"r":-4.85},{"T":670,"a":3.14,"r":-4.7},{"T":670,"a":3.16,"r":-4.85},{"T":670,"a":3.18,"r":-4.75},{"T":670,"a":3.2,"r":-4.85},{"T":670,"a":3.225,"r":-4.65},{"T":670,"a":3.24,"r":-4.88},{"T":670,"a":3.32,"r":-4.89},{"T":670,"a":3.328,"r":-4.55},{"T":670,"a":3.336,"r":-4.89},{"T":670,"a":3.546,"r":-4.89},{"T":670,"a":3.553,"r":-4.65},{"T":670,"a":3.56,"r":-4.89},{"T":670,"a":3.64,"r":-4.89},{"T":670,"a":3.646,"r":-4.65},{"T":670,"a":3.653,"r":-4.85},{"T":670,"a":3.7,"r":-4.8},{"T":670,"a":3.72,"r":-4.89},{"T":670,"a":3.793,"r":-4.89},{"T":670,"a":3.8,"r":-4.65},{"T":670,"a":3.807,"r":-4.89},{"T":670,"a":4.07,"r":-4.89},{"T":670,"a":4.08,"r":-4.7},{"T":670,"a":4.09,"r":-4.89},{"T":670,"a":4.12,"r":-4.89},{"T":670,"a":4.13,"r":-4.72},{"T":670,"a":4.14,"r":-4.89},{"T":670,"a":4.15,"r":-4.7},{"T":670,"a":4.16,"r":-4.89},{"T":670,"a":4.18,"r":-4.89},

{"T":710,"a":0.142,"r":0.04},{"T":710,"a":0.244,"r":0.04},{"T":710,"a":0.268,"r":-0.22},{"T":710,"a":0.296,"r":-0.7},{"T":710,"a":0.32,"r":-0.95},{"T":710,"a":0.349,"r":-1.16},{"T":710,"a":0.38,"r":-1.4},{"T":710,"a":0.406,"r":-1.57},
{"T":710,"a":0.42,"r":-1.76},{"T":710,"a":0.44,"r":-1.6},{"T":710,"a":0.46,"r":-1.93},{"T":710,"a":0.48,"r":-1.76},{"T":710,"a":0.5,"r":-2.1},{"T":710,"a":0.52,"r":-1.93},{"T":710,"a":0.54,"r":-2.27},{"T":710,"a":0.56,"r":-2.09},{"T":710,"a":0.58,"r":-2.44},{"T":710,"a":0.6,"r":-2.26},{"T":710,"a":0.62,"r":-2.54},{"T":710,"a":0.64,"r":-2.24},{"T":710,"a":0.66,"r":-2.46},{"T":710,"a":0.68,"r":-2.17},{"T":710,"a":0.7,"r":-2.41},{"T":710,"a":0.72,"r":-2.14},{"T":710,"a":0.74,"r":-2.38},{"T":710,"a":0.76,"r":-2.09},{"T":710,"a":0.78,"r":-2.32},{"T":710,"a":0.8,"r":-2.03},{"T":710,"a":0.82,"r":-2.17},{"T":710,"a":0.84,"r":-1.7},{"T":710,"a":0.853,"r":-1.65},{"T":710,"a":0.863,"r":-1.45},{"T":710,"a":0.873,"r":-1.16},{"T":710,"a":0.893,"r":-0.79},{"T":710,"a":0.905,"r":-0.9},{"T":710,"a":0.918,"r":-1.08},{"T":710,"a":0.93,"r":-1.5},{"T":710,"a":0.946,"r":-2.02},{"T":710,"a":0.965,"r":-2.5},{"T":710,"a":0.987,"r":-3.0},
{"T":710,"a":1.0,"r":-3.05},{"T":710,"a":1.02,"r":-3.42},{"T":710,"a":1.04,"r":-3.35},{"T":710,"a":1.06,"r":-3.7},{"T":710,"a":1.08,"r":-3.57},{"T":710,"a":1.1,"r":-3.93},{"T":710,"a":1.12,"r":-3.84},{"T":710,"a":1.14,"r":-4.15},{"T":710,"a":1.16,"r":-4.06},{"T":710,"a":1.18,"r":-4.36},{"T":710,"a":1.2,"r":-4.26},{"T":710,"a":1.22,"r":-4.55},{"T":710,"a":1.24,"r":-4.42},{"T":710,"a":1.26,"r":-4.69},{"T":710,"a":1.28,"r":-4.56},{"T":710,"a":1.3,"r":-4.8},
{"T":710,"a":1.315,"r":-4.5},{"T":710,"a":1.33,"r":-4.87},{"T":710,"a":1.345,"r":-4.55},{"T":710,"a":1.36,"r":-4.87},{"T":710,"a":1.375,"r":-4.5},{"T":710,"a":1.39,"r":-4.85},{"T":710,"a":1.405,"r":-4.55},{"T":710,"a":1.42,"r":-4.87},{"T":710,"a":1.435,"r":-4.6},{"T":710,"a":1.45,"r":-4.87},{"T":710,"a":1.475,"r":-4.87},{"T":710,"a":1.49,"r":-4.55},{"T":710,"a":1.5,"r":-4.87},{"T":710,"a":1.515,"r":-4.5},{"T":710,"a":1.53,"r":-4.85},{"T":710,"a":1.545,"r":-4.6},{"T":710,"a":1.56,"r":-4.87},{"T":710,"a":1.58,"r":-4.7},{"T":710,"a":1.6,"r":-4.55},{"T":710,"a":1.615,"r":-4.6},{"T":710,"a":1.624,"r":-4.24},{"T":710,"a":1.64,"r":-4.4},{"T":710,"a":1.655,"r":-4.3},{"T":710,"a":1.665,"r":-4.53},{"T":710,"a":1.677,"r":-3.95},{"T":710,"a":1.705,"r":-3.87},{"T":710,"a":1.72,"r":-3.55},{"T":710,"a":1.738,"r":-3.38},{"T":710,"a":1.755,"r":-3.5},{"T":710,"a":1.77,"r":-3.75},{"T":710,"a":1.79,"r":-4.81},{"T":710,"a":1.8,"r":-4.87},
{"T":710,"a":1.822,"r":-4.87},{"T":710,"a":1.827,"r":-4.6},{"T":710,"a":1.835,"r":-4.87},{"T":710,"a":1.887,"r":-4.87},{"T":710,"a":1.892,"r":-4.65},{"T":710,"a":1.898,"r":-4.87},{"T":710,"a":1.983,"r":-4.87},{"T":710,"a":1.989,"r":-4.44},{"T":710,"a":1.996,"r":-4.87},{"T":710,"a":2.127,"r":-4.87},{"T":710,"a":2.132,"r":-4.55},{"T":710,"a":2.138,"r":-4.87},{"T":710,"a":2.178,"r":-4.87},{"T":710,"a":2.184,"r":-4.24},{"T":710,"a":2.19,"r":-4.87},{"T":710,"a":2.24,"r":-4.87},{"T":710,"a":2.25,"r":-4.75},{"T":710,"a":2.26,"r":-4.87},{"T":710,"a":2.4,"r":-4.87},{"T":710,"a":2.42,"r":-4.8},{"T":710,"a":2.45,"r":-4.87},{"T":710,"a":2.552,"r":-4.87},{"T":710,"a":2.558,"r":-4.6},{"T":710,"a":2.565,"r":-4.87},{"T":710,"a":2.73,"r":-4.87},{"T":710,"a":2.745,"r":-4.78},{"T":710,"a":2.76,"r":-4.87},{"T":710,"a":2.928,"r":-4.87},{"T":710,"a":2.935,"r":-4.55},{"T":710,"a":2.942,"r":-4.87},{"T":710,"a":2.96,"r":-4.75},{"T":710,"a":2.97,"r":-4.87},{"T":710,"a":3.18,"r":-4.87},{"T":710,"a":3.187,"r":-4.38},{"T":710,"a":3.194,"r":-4.87},{"T":710,"a":3.326,"r":-4.87},{"T":710,"a":3.333,"r":-4.55},{"T":710,"a":3.34,"r":-4.87},{"T":710,"a":3.4,"r":-4.8},{"T":710,"a":3.42,"r":-4.87},{"T":710,"a":3.7,"r":-4.87},{"T":710,"a":3.707,"r":-4.55},{"T":710,"a":3.714,"r":-4.87},{"T":710,"a":3.984,"r":-4.87},{"T":710,"a":3.991,"r":-4.5},{"T":710,"a":3.998,"r":-4.87},{"T":710,"a":4.18,"r":-4.87}
]
},
"layer":[
{
"data":{"name":"curves"},
"transform":[{"calculate":"datum.r - 3.9*indexof([290,490,550,590,630,670,710], datum.T)","as":"Y"}],
"mark":{"type":"line","clip":true,"color":"#1c1c1c","strokeWidth":2.4,"strokeJoin":"round"},
"encoding":{
"x":{"field":"a","type":"quantitative","scale":{"domain":[0.142,4.174],"nice":false,"zero":false},
"axis":{"orient":"bottom","values":[0.5,1,1.5,2,2.5,3,3.5,4],
"tickSize":{"condition":{"test":"datum.value % 1 == 0","value":-15},"value":-9},
"tickColor":"#1c1c1c","tickWidth":2,"domainColor":"#1c1c1c","domainWidth":2.4,"grid":false,
"labelExpr":"datum.value % 1 == 0 ? format(datum.value, 'd') : ''",
"labelFont":"DejaVu Serif","labelFontSize":28,"labelColor":"#1c1c1c","labelPadding":37,"labelFlush":false,"labelOverlap":false,
"title":"Glancing\u00a0 angle,deg.","titleFont":"DejaVu Serif","titleFontSize":33,"titleFontWeight":"normal","titleColor":"#1c1c1c",
"titleX":503,"titleY":97,"titleAlign":"center","titleBaseline":"alphabetic"}},
"y":{"field":"Y","type":"quantitative","scale":{"domain":[-28.3,-0.05],"nice":false,"zero":false},
"axis":{"orient":"left",
"values":[-1,-2,-3,-0.699,-0.523,-0.398,-0.301,-0.222,-0.155,-0.097,-1.699,-1.523,-1.398,-1.301,-1.222,-1.155,-1.097,-1.046,-2.699,-2.523,-2.398,-2.301,-2.222,-2.155,-2.097,-2.046,
-3.9,-4.9,-5.9,-6.9,-4.599,-4.423,-4.298,-4.201,-4.122,-4.055,-3.997,-3.946,-5.599,-5.423,-5.298,-5.201,-5.122,-5.055,-4.997,-4.946,-6.599,-6.423,-6.298,-6.201,-6.122,-6.055,-5.997,-5.946,
-7.8,-8.8,-9.8,-10.8,-8.499,-8.323,-8.198,-8.101,-8.022,-7.955,-7.897,-7.846,-9.499,-9.323,-9.198,-9.101,-9.022,-8.955,-8.897,-8.846,-10.499,-10.323,-10.198,-10.101,-10.022,-9.955,-9.897,-9.846,
-11.7,-12.7,-13.7,-14.7,-12.399,-12.223,-12.098,-12.001,-11.922,-11.855,-11.797,-11.746,-13.399,-13.223,-13.098,-13.001,-12.922,-12.855,-12.797,-12.746,-14.399,-14.223,-14.098,-14.001,-13.922,-13.855,-13.797,-13.746,
-15.6,-16.6,-17.6,-18.6,-16.299,-16.123,-15.998,-15.901,-15.822,-15.755,-15.697,-15.646,-17.299,-17.123,-16.998,-16.901,-16.822,-16.755,-16.697,-16.646,-18.299,-18.123,-17.998,-17.901,-17.822,-17.755,-17.697,-17.646,
-19.5,-20.5,-21.5,-22.5,-20.199,-20.023,-19.898,-19.801,-19.722,-19.655,-19.597,-19.546,-21.199,-21.023,-20.898,-20.801,-20.722,-20.655,-20.597,-20.546,-22.199,-22.023,-21.898,-21.801,-21.722,-21.655,-21.597,-21.546,
-23.4,-24.4,-25.4,-26.4,-27.4,-24.099,-23.923,-23.798,-23.701,-23.622,-23.555,-23.497,-23.446,-25.099,-24.923,-24.798,-24.701,-24.622,-24.555,-24.497,-24.446,-26.099,-25.923,-25.798,-25.701,-25.622,-25.555,-25.497,-25.446,-27.099,-26.923,-26.798,-26.701,-26.622,-26.555,-26.497,-26.446,-28.099,-27.923,-27.798,-27.701,-27.622,-27.555,-27.497,-27.446],
"tickSize":{"condition":{"test":"abs(datum.value*10 - round(datum.value*10)) < 0.003","value":-17},"value":-10},
"tickColor":"#1c1c1c","tickWidth":2,"domainColor":"#1c1c1c","domainWidth":2.4,"grid":false,
"labelExpr":"abs(datum.value*10 - round(datum.value*10)) > 0.003 ? '' : ['', '10 \u207b\u00b9', '10 \u207b\u00b2', '10 \u207b\u00b3', '10 \u207b\u2074'][-round(datum.value + 3.9*min(6, floor((0.5 - datum.value)/3.9)))]",
"labelFont":"DejaVu Serif","labelFontSize":25,"labelFontWeight":"bold","labelColor":"#1c1c1c","labelPadding":32,"labelAlign":"right","labelBaseline":"middle","labelFlush":false,"labelOverlap":false,"labelBound":false,
"title":"Reflectivity","titleFont":"DejaVu Serif","titleFontSize":32,"titleFontWeight":"normal","titleColor":"#1c1c1c",
"titleX":-142,"titleY":470,"titleAlign":"center","titleBaseline":"middle","titleAngle":-90}},
"detail":{"field":"T","type":"nominal"}
}
},
{
"data":{"name":"labels"},
"transform":[{"calculate":"datum.r - 3.9*indexof([290,490,550,590,630,670,710], datum.T)","as":"Y"}],
"mark":{"type":"text","align":"left","baseline":"middle","font":"DejaVu Serif","fontSize":37,"color":"#1c1c1c"},
"encoding":{
"x":{"field":"a","type":"quantitative","scale":{"domain":[0.142,4.174],"nice":false,"zero":false},
"axis":{"orient":"top","values":[0.5,1,1.5,2,2.5,3,3.5,4],
"tickSize":{"condition":{"test":"datum.value % 1 == 0","value":-13},"value":-7},
"tickColor":"#1c1c1c","tickWidth":2,"domainColor":"#1c1c1c","domainWidth":2.4,"grid":false,"labels":false,"title":null}},
"y":{"field":"Y","type":"quantitative","scale":{"domain":[-28.3,-0.05],"nice":false,"zero":false},
"axis":{"orient":"right","values":[-1,-2,-3,-4.9,-5.9,-6.9,-8.8,-9.8,-10.8,-12.7,-13.7,-14.7,-16.6,-17.6,-18.6,-20.5,-21.5,-22.5,-24.4,-25.4,-26.4,-27.4],
"tickSize":-6,"tickColor":"#1c1c1c","tickWidth":2,"domain":false,"grid":false,"labels":false,"title":null}},
"text":{"field":"txt","type":"nominal"}
}
}
],
"resolve":{"axis":{"x":"independent","y":"independent"}}
}
